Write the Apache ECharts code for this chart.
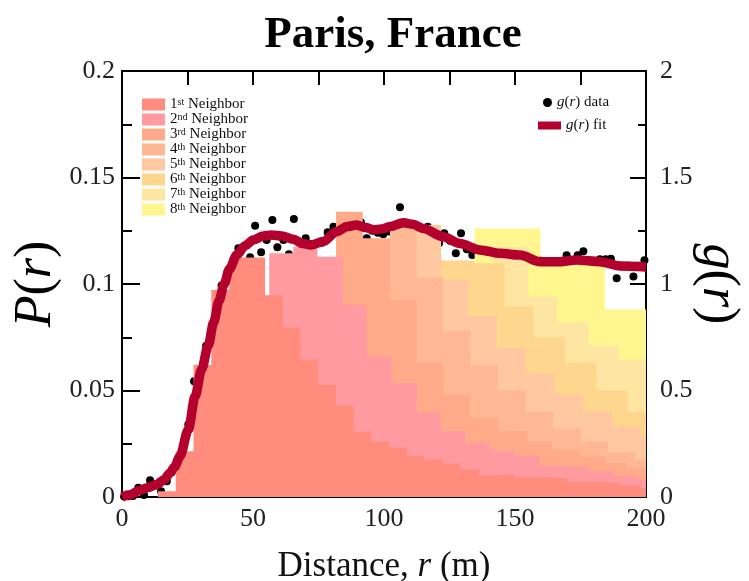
<!DOCTYPE html>
<html>
<head>
<meta charset="utf-8">
<script src="https://cdn.jsdelivr.net/npm/echarts@6/dist/echarts.min.js"></script>
<style>
html,body{margin:0;padding:0;background:#fff;}
#chart{width:749px;height:581px;}
</style>
</head>
<body>
<div id="chart"></div>
<script>
// neighbour histograms: bin edges (m) and top of each bin (P)
var n1Edges = [13.7, 20.5, 27.3, 34.1, 40.9, 47.7, 54.6, 61.5, 68.1, 74.9, 81.7, 88.5, 95.2, 102, 108.8, 115.6, 122.5, 129.2, 136.1, 143, 149.7, 156.5, 163.3, 170.1, 176.9, 183.7, 190.5, 197.3, 204.1];
var n1Tops = [0.0027, 0.0215, 0.062, 0.0972, 0.1124, 0.1124, 0.0947, 0.0796, 0.0646, 0.0527, 0.0429, 0.0307, 0.026, 0.0232, 0.0194, 0.0176, 0.0157, 0.0129, 0.0101, 0.0105, 0.0093, 0.0093, 0.0084, 0.0071, 0.0071, 0.0064, 0.0054, 0.0043];
var n2Edges = [47, 56.2, 65.4, 74.6, 84.4, 93.4, 102.9, 112.5, 121.6, 131, 140.5, 150, 159.2, 168.7, 178, 187.5, 196.4, 206];
var n2Tops = [0.09, 0.1144, 0.1175, 0.1128, 0.0902, 0.066, 0.0535, 0.0397, 0.031, 0.0254, 0.0215, 0.0194, 0.0146, 0.0144, 0.0121, 0.0097, 0.0084];
var n3Edges = [72, 81.7, 91.9, 102.3, 112.5, 122.6, 132.8, 143.5, 154.5, 164, 174.8, 184.4, 192.6, 202];
var n3Tops = [0.1, 0.1339, 0.1215, 0.0925, 0.0629, 0.048, 0.0372, 0.031, 0.026, 0.022, 0.019, 0.016, 0.0135];
var n4Edges = [92, 102.3, 112.5, 122.6, 133, 143.5, 154, 164.5, 175, 185.5, 196, 206];
var n4Tops = [0.115, 0.1277, 0.103, 0.078, 0.062, 0.05, 0.04, 0.032, 0.026, 0.021, 0.0176];
var n5Edges = [102, 112.5, 121.8, 132, 143, 154, 165, 176, 187, 198, 209];
var n5Tops = [0.12, 0.1277, 0.102, 0.085, 0.07, 0.058, 0.048, 0.04, 0.033, 0.028];
var n6Edges = [111, 121.8, 134.6, 146, 157, 169, 181, 193, 205];
var n6Tops = [0.115, 0.111, 0.1097, 0.0894, 0.075, 0.063, 0.05, 0.04];
var n7Edges = [118, 130, 141.7, 155.1, 166, 178, 189.5, 201];
var n7Tops = [0.105, 0.108, 0.1175, 0.094, 0.082, 0.071, 0.0644];
var n8Edges = [125, 134.6, 159.7, 184.4, 209];
var n8Tops = [0.1, 0.126, 0.111, 0.088];

var neighborNames = ['1st Neighbor', '2nd Neighbor', '3rd Neighbor', '4th Neighbor', '5th Neighbor', '6th Neighbor', '7th Neighbor', '8th Neighbor'];
var neighborColors = ['#ff8c7d', '#ff9ba0', '#ffaa88', '#ffb893', '#ffc8a0', '#ffd68e', '#ffe5a2', '#fff68f'];

// g(r) fit
var fitR = [0, 3, 6.9, 10, 13.2, 16, 18.3, 20, 22.1, 25.3, 27.9, 30.4, 32.9, 35, 37, 39, 41, 43.8, 47, 50.1, 54, 57.1, 61, 65.4, 69, 72, 76.8, 81.9, 86, 89.6, 93, 96, 99, 102.3, 107.4, 111, 115, 122.6, 129, 136.6, 144.3, 151.9, 159.5, 167.2, 173.5, 182.4, 190, 200];
var fitG = [0, 0.01, 0.032, 0.045, 0.059, 0.08, 0.113, 0.14, 0.19, 0.316, 0.472, 0.6, 0.71, 0.82, 0.92, 1.0, 1.07, 1.136, 1.18, 1.207, 1.225, 1.23, 1.225, 1.21, 1.19, 1.183, 1.199, 1.246, 1.27, 1.277, 1.265, 1.255, 1.258, 1.27, 1.288, 1.28, 1.261, 1.222, 1.19, 1.16, 1.144, 1.136, 1.105, 1.105, 1.113, 1.105, 1.085, 1.08];

// g(r) data points
var dataR = [0.8, 2.5, 4.2, 6.2, 8.4, 10.7, 12.6, 14.9, 17.1, 19, 21.1, 23.4, 25.3, 27.5, 29.8, 32.1, 33.8, 36, 38, 40.2, 42.5, 44.4, 46.6, 48.9, 50.8, 53.1, 55.2, 57.4, 59.3, 61.6, 63.7, 65.6, 67.6, 70.1, 72.1, 74.3, 76.3, 78.5, 80.7, 82.8, 84.9, 87, 89.2, 91.2, 93.4, 95.5, 97.6, 99.7, 101.9, 103.9, 106.1, 108.3, 110.3, 112.5, 114.6, 116.7, 118.8, 121, 123, 125.2, 127.4, 129.4, 131.6, 133.7, 135.8, 137.9, 140, 142.1, 144.3, 146.3, 148.5, 150.6, 152.7, 154.8, 157, 159, 161.1, 163.4, 165.5, 167.6, 169.7, 171.8, 173.9, 176.1, 178.1, 180.3, 182.4, 184.6, 186.6, 188.8, 190.8, 193, 195.2, 197.3, 199.4];
var dataG = [0.002, 0.003, 0.005, 0.043, 0.009, 0.079, 0.054, 0.027, 0.074, 0.116, 0.132, 0.179, 0.34, 0.543, 0.593, 0.71, 0.754, 0.77, 0.993, 1.053, 1.032, 1.168, 1.102, 1.126, 1.274, 1.149, 1.207, 1.3, 1.172, 1.207, 1.14, 1.305, 1.144, 1.215, 1.188, 1.061, 1.194, 1.243, 1.269, 1.257, 1.233, 1.296, 1.296, 1.29, 1.215, 1.25, 1.241, 1.233, 1.246, 1.261, 1.36, 1.288, 1.28, 1.264, 1.23, 1.269, 1.238, 1.191, 1.238, 1.203, 1.144, 1.238, 1.163, 1.136, 1.179, 1.128, 1.157, 1.124, 1.194, 1.108, 1.149, 1.163, 1.186, 1.058, 1.124, 1.113, 1.105, 1.061, 1.108, 1.09, 1.135, 1.074, 1.135, 1.154, 1.069, 1.074, 1.116, 1.116, 1.119, 1.027, 1.086, 1.086, 1.035, 1.086, 1.112];

var serif = 'Liberation Serif';

function stepData(edges, tops) {
	var d = [];
	for (var i = 0; i < tops.length; i++) d.push([edges[i], tops[i]]);
	d.push([edges[tops.length], tops[tops.length - 1]]);
	return d;
}

function zip(a, b) {
	var d = [];
	for (var i = 0; i < a.length; i++) d.push([a[i], b[i]]);
	return d;
}

var layers = [
	[n1Edges, n1Tops], [n2Edges, n2Tops], [n3Edges, n3Tops], [n4Edges, n4Tops],
	[n5Edges, n5Tops], [n6Edges, n6Tops], [n7Edges, n7Tops], [n8Edges, n8Tops]
];

var series = [];
// 8th drawn first so the 1st ends up in front
for (var k = layers.length - 1; k >= 0; k--) {
	series.push({
		name: neighborNames[k],
		type: 'line',
		step: 'end',
		xAxisIndex: 0,
		yAxisIndex: 0,
		showSymbol: false,
		symbol: 'none',
		silent: true,
		lineStyle: {width: 0},
		itemStyle: {color: neighborColors[k]},
		areaStyle: {color: neighborColors[k], opacity: 1},
		data: stepData(layers[k][0], layers[k][1])
	});
}
series.push({
	name: 'g(r) fit',
	type: 'line',
	smooth: 0.3,
	smoothMonotone: 'x',
	yAxisIndex: 1,
	showSymbol: false,
	symbol: 'none',
	lineStyle: {width: 9.5, color: '#b4002d'},
	itemStyle: {color: '#b4002d'},
	data: zip(fitR, fitG)
});
series.push({
	name: 'g(r) data',
	type: 'scatter',
	yAxisIndex: 1,
	symbolSize: 8,
	itemStyle: {color: '#000', opacity: 1},
	data: zip(dataR, dataG)
});

var legendRich = {
	n: {fontFamily: serif, fontSize: 15, color: '#111', lineHeight: 15},
	s: {fontFamily: serif, fontSize: 10, color: '#111', verticalAlign: 'top', lineHeight: 10},
	i: {fontFamily: serif, fontSize: 15, fontStyle: 'italic', color: '#111', lineHeight: 15}
};

var tickStyle = {color: '#000', width: 2};

var option = {
	backgroundColor: '#fff',
	animation: false,
	title: {
		text: 'Paris, France',
		left: 388,
		textAlign: 'center',
		top: 8,
		textStyle: {fontFamily: serif, fontWeight: 'bold', fontSize: 45, color: '#000'}
	},
	grid: {left: 122, right: 103, top: 71, bottom: 84, outerBoundsMode: 'none', containLabel: false},
	legend: [
		{
			orient: 'vertical',
			left: 137,
			top: 92,
			itemWidth: 23,
			itemHeight: 12,
			itemGap: 0,
			icon: 'rect',
			selectedMode: false,
			data: neighborNames,
			formatter: function (name) {
				var parts = name.split(' ')[0];
				return '{n|' + parts.replace(/[a-z]+$/, '') + '}{s|' + parts.replace(/^\d+/, '') + '}{n| Neighbor}';
			},
			textStyle: {rich: legendRich}
		},
		{
			left: 538,
			top: 90,
			itemWidth: 9,
			itemHeight: 9,
			icon: 'circle',
			selectedMode: false,
			data: ['g(r) data'],
			formatter: function () { return '{i|g}{n|(}{i|r}{n|) data}'; },
			textStyle: {rich: legendRich}
		},
		{
			left: 533,
			top: 113,
			itemWidth: 23,
			itemHeight: 8,
			icon: 'rect',
			selectedMode: false,
			data: ['g(r) fit'],
			formatter: function () { return '{i|g}{n|(}{i|r}{n|) fit}'; },
			textStyle: {rich: legendRich}
		}
	],
	xAxis: [
		{
			type: 'value',
			min: 0,
			max: 200,
			interval: 50,
			name: 'Distance, {i|r} (m)',
			nameLocation: 'middle',
			nameGap: 52,
			nameTextStyle: {
				fontFamily: serif, fontSize: 35, color: '#111',
				rich: {i: {fontFamily: serif, fontSize: 35, fontStyle: 'italic', color: '#111'}}
			},
			axisLine: {show: true, onZero: false, lineStyle: {color: '#000', width: 2}},
			axisTick: {show: true, inside: true, length: 14, lineStyle: tickStyle},
			minorTick: {show: true, splitNumber: 2, length: 8, lineStyle: tickStyle},
			axisLabel: {fontFamily: serif, fontSize: 26, color: '#222', margin: 9},
			splitLine: {show: false}
		},
		{
			type: 'value',
			position: 'top',
			min: 0,
			max: 200,
			interval: 25,
			axisLine: {show: true, onZero: false, lineStyle: {color: '#000', width: 2}},
			axisTick: {show: true, inside: true, length: 14, lineStyle: tickStyle},
			axisLabel: {show: false},
			splitLine: {show: false}
		}
	],
	yAxis: [
		{
			type: 'value',
			min: 0,
			max: 0.2,
			interval: 0.05,
			name: '{i|P}({i|r})',
			nameLocation: 'middle',
			nameGap: 60,
			nameMoveOverlap: false,
			nameTextStyle: {
				fontFamily: serif, fontSize: 52, color: '#000',
				rich: {i: {fontFamily: serif, fontSize: 52, fontStyle: 'italic', color: '#000'}}
			},
			axisLine: {show: true, onZero: false, lineStyle: {color: '#000', width: 2}},
			axisTick: {show: true, inside: true, length: 18, lineStyle: tickStyle},
			minorTick: {show: true, splitNumber: 2, length: 10, lineStyle: tickStyle},
			axisLabel: {fontFamily: serif, fontSize: 26, color: '#222', margin: 7},
			splitLine: {show: false}
		},
		{
			type: 'value',
			position: 'right',
			min: 0,
			max: 2,
			interval: 0.5,
			name: '{i|g}({i|r})',
			nameLocation: 'middle',
			nameRotate: -90,
			nameGap: 46,
			nameMoveOverlap: false,
			nameTextStyle: {
				fontFamily: serif, fontSize: 52, color: '#000',
				rich: {i: {fontFamily: serif, fontSize: 52, fontStyle: 'italic', color: '#000'}}
			},
			axisLine: {show: true, onZero: false, lineStyle: {color: '#000', width: 2}},
			axisTick: {show: true, inside: true, length: 16, lineStyle: tickStyle},
			minorTick: {show: true, splitNumber: 2, length: 8, lineStyle: tickStyle},
			axisLabel: {fontFamily: serif, fontSize: 26, color: '#222', margin: 14},
			splitLine: {show: false}
		}
	],
	series: series
};

var myChart = echarts.init(document.getElementById('chart'));
myChart.setOption(option);
</script>
</body>
</html>
